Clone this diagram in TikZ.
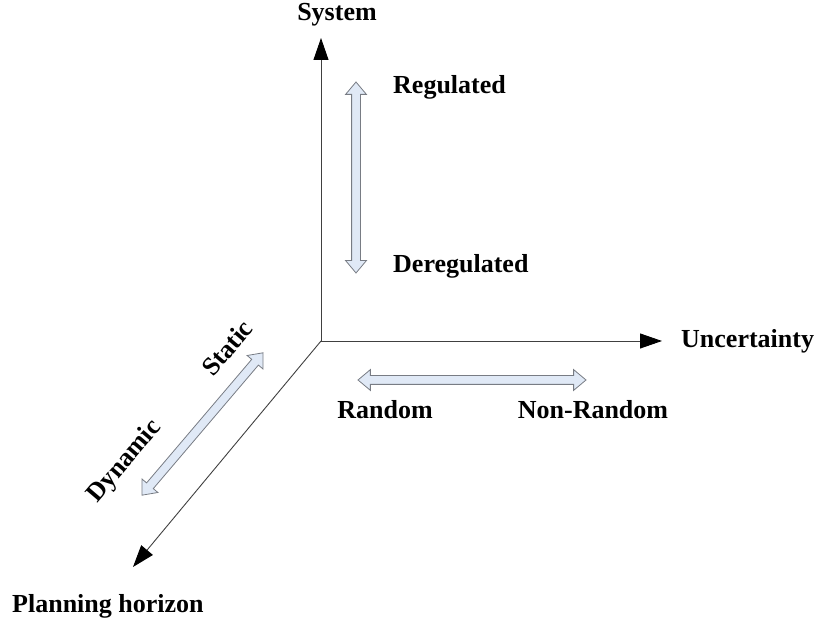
\documentclass[tikz,border=0pt]{standalone}
\usepackage{fontspec}
\setmainfont{Liberation Serif}
\usetikzlibrary{arrows.meta,shapes.arrows}
\definecolor{arrowfill}{RGB}{224,233,246}
\definecolor{arrowline}{RGB}{120,124,132}
\tikzset{
  axis/.style={draw=black!75,line width=0.9pt,-{Triangle[length=22pt,width=15pt,color=black]}},
  dblarrow/.style={double arrow,draw=arrowline,fill=arrowfill,line width=0.8pt,
    inner sep=4pt,double arrow head extend=6pt,double arrow tip angle=80},
  lbl/.style={font=\fontsize{26}{30}\selectfont\bfseries,inner sep=0pt}
}
\begin{document}
\begin{tikzpicture}[x=1pt,y=1pt]
		\useasboundingbox (0,0) rectangle (820,626);
		%axes
		\coordinate (O) at (321,285);
		\coordinate (sysTip) at (321,588);
		\coordinate (uncTip) at (662,285);
		\coordinate (horTip) at (133,59);
		\draw[axis] (O) -- (sysTip);
		\draw[axis] (O) -- (uncTip);
		\draw[axis] (O) -- (horTip);
		\node[lbl] (system) at (337,611) {System};
		\node[lbl,anchor=west] (uncertainty) at (681,285) {Uncertainty};
		\node[lbl,anchor=west] (planning) at (12,20) {Planning horizon};
		%system
		\node[dblarrow,minimum height=191pt,rotate=90] (regArrow) at (356,448.5) {};
		\node[lbl,anchor=west] (regulated) at (393,539) {Regulated};
		\node[lbl,anchor=west] (deregulated) at (393,360) {Deregulated};
		%uncertainty
		\node[dblarrow,minimum height=228pt] (randArrow) at (472,246) {};
		\node[lbl] (random) at (385,216) {Random};
		\node[lbl] (nonrandom) at (593,216) {Non-Random};
		%planning horizon
		\node[dblarrow,minimum height=187pt,rotate=49.6] (statArrow) at (202.5,202) {};
		\node[lbl,rotate=49.6] (static) at (227,278) {Static};
		\node[lbl,rotate=49.6] (dynamic) at (125,164) {Dynamic};
	\end{tikzpicture}
\end{document}
